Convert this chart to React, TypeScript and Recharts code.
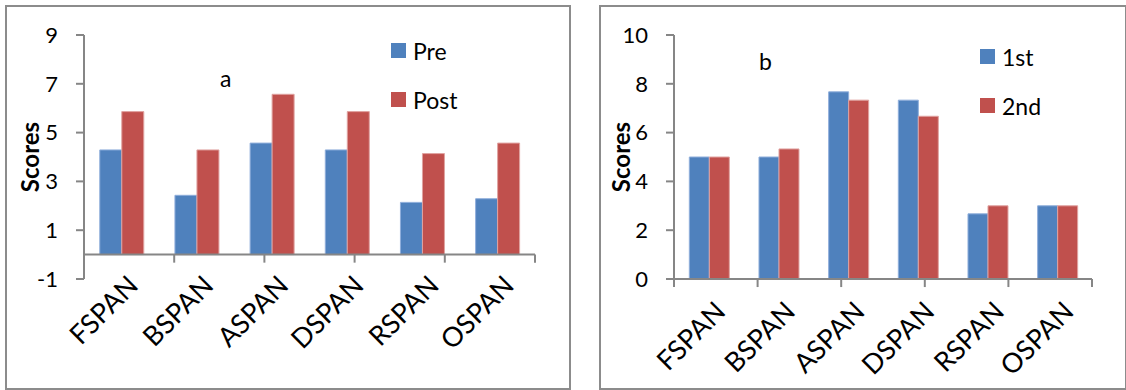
import React from 'react';
import { BarChart, Bar, XAxis, YAxis, ReferenceLine, Legend } from 'recharts';

const categories = ['FSPAN', 'BSPAN', 'ASPAN', 'DSPAN', 'RSPAN', 'OSPAN'];
const preScores = [4.29, 2.43, 4.57, 4.29, 2.14, 2.29];
const postScores = [5.86, 4.29, 6.57, 5.86, 4.14, 4.57];
const firstScores = [5, 5, 7.67, 7.33, 2.67, 3];
const secondScores = [5, 5.33, 7.33, 6.67, 3, 3];
const leftTicks = [-1, 1, 3, 5, 7, 9];
const rightTicks = [0, 2, 4, 6, 8, 10];
const boundaries = [0, 1, 2, 3, 4, 5, 6];

const leftData = categories.map((name, i) => ({ name, Pre: preScores[i], Post: postScores[i] }));
const rightData = categories.map((name, i) => ({ name, '1st': firstScores[i], '2nd': secondScores[i] }));

const FONT = 'Lato, "Noto Sans", sans-serif';
const AXIS = '#868686';
const BLUE = '#4F81BD';
const RED = '#C0504D';

const CategoryTick = (props: any) => {
  const { x, y, payload, offY } = props;
  return (
    <g transform={`translate(${x + 3},${y + offY})`}>
      <text textAnchor="end" transform="rotate(-45)" dominantBaseline="hanging" fontSize={27} fill="#000" fontFamily={FONT}>
        {payload.value}
      </text>
    </g>
  );
};

const AxisTitle = (props: any) => {
  const { viewBox, cx } = props;
  const cy = viewBox.y + viewBox.height / 2;
  return (
    <text x={cx} y={cy} transform={`rotate(-90, ${cx}, ${cy})`} textAnchor="middle" dominantBaseline="central"
      fontSize={24} fontWeight="bold" fill="#000" fontFamily={FONT}>
      Scores
    </text>
  );
};

const makeLegend = (keys: string[]) => (props: any) => {
  const payload = [...(props.payload || [])].sort(
    (a: any, b: any) => keys.indexOf(a.value) - keys.indexOf(b.value)
  );
  return (
    <div style={{ fontFamily: FONT, fontSize: 23, color: '#000' }}>
      {payload.map((p: any) => (
        <div key={p.value} style={{ display: 'flex', alignItems: 'center', height: 49 }}>
          <span style={{ display: 'inline-block', width: 15, height: 15, background: p.color, marginRight: 7 }} />
          <span>{p.value}</span>
        </div>
      ))}
    </div>
  );
};

type PanelProps = {
  data: any[];
  keys: string[];
  domain: [number, number];
  ticks: number[];
  width: number;
  yWidth: number;
  right: number;
  titleX: number;
  gap: string;
  labelOff: number;
  legendLeft: number;
  legendTop: number;
};

const Panel = (p: PanelProps) => {
  const LegendContent = makeLegend(p.keys);
  return (
    <BarChart
      width={p.width}
      height={390}
      data={p.data}
      margin={{ top: 35, right: p.right, bottom: 11, left: 0 }}
      barCategoryGap={p.gap}
      barGap={0}
    >
      <XAxis dataKey="name" axisLine={false} tickLine={false} tickSize={0} tickMargin={0} height={100}
        interval={0} tick={<CategoryTick offY={p.labelOff} />} />
      <XAxis xAxisId="num" type="number" domain={[0, 6]} hide />
      <YAxis domain={p.domain} ticks={p.ticks} interval={0} width={p.yWidth} axisLine={{ stroke: AXIS, strokeWidth: 2 }}
        tickLine={{ stroke: AXIS, strokeWidth: 2 }} tickSize={8} tickMargin={18}
        tick={{ fontSize: 22, fill: '#000', fontFamily: FONT }}
        label={<AxisTitle cx={p.titleX} />} />
      <Bar dataKey={p.keys[0]} fill={BLUE} stroke="#8FAEDB" strokeWidth={1} isAnimationActive={false} />
      <Bar dataKey={p.keys[1]} fill={RED} stroke="#E0A3A1" strokeWidth={1} isAnimationActive={false} />
      <ReferenceLine y={0} stroke={AXIS} strokeWidth={2} />
      {boundaries.map((b) => (
        <ReferenceLine key={b} xAxisId="num" segment={[{ x: b, y: 0 }, { x: b, y: -0.33 }]}
          stroke={AXIS} strokeWidth={2} ifOverflow="visible" />
      ))}
      <Legend layout="vertical" align="center" verticalAlign="middle" content={LegendContent}
        itemSorter={(item: any) => p.keys.indexOf(item.value)}
        wrapperStyle={{ left: p.legendLeft, top: p.legendTop, width: 'auto', height: 'auto' }} />
    </BarChart>
  );
};

export default function App() {
  return (
    <div style={{ position: 'absolute', left: 0, top: 0, width: 1126, height: 390, background: '#fff', overflow: 'hidden' }}>
      <div style={{ position: 'absolute', left: 5, top: 5, width: 566, height: 385, border: '2px solid #8C8C8C', boxSizing: 'border-box' }} />
      <div style={{ position: 'absolute', left: 599, top: 5, width: 528, height: 385, border: '2px solid #8C8C8C', boxSizing: 'border-box' }} />
      <div style={{ position: 'absolute', left: 0, top: 0 }}>
        <Panel data={leftData} keys={['Pre', 'Post']} domain={[-1, 9]} ticks={leftTicks} width={570} yWidth={84}
          right={35} titleX={29} gap="21%" labelOff={-7} legendLeft={391} legendTop={26} />
      </div>
      <div style={{ position: 'absolute', left: 600, top: 0 }}>
        <Panel data={rightData} keys={['1st', '2nd']} domain={[0, 10]} ticks={rightTicks} width={526} yWidth={74}
          right={34} titleX={20} gap="22%" labelOff={19} legendLeft={380} legendTop={32} />
      </div>
      <div style={{ position: 'absolute', left: 220, top: 64, fontFamily: FONT, fontSize: 23, color: '#000', lineHeight: '28px' }}>a</div>
      <div style={{ position: 'absolute', left: 759, top: 47, fontFamily: FONT, fontSize: 23, color: '#000', lineHeight: '28px' }}>b</div>
    </div>
  );
}
